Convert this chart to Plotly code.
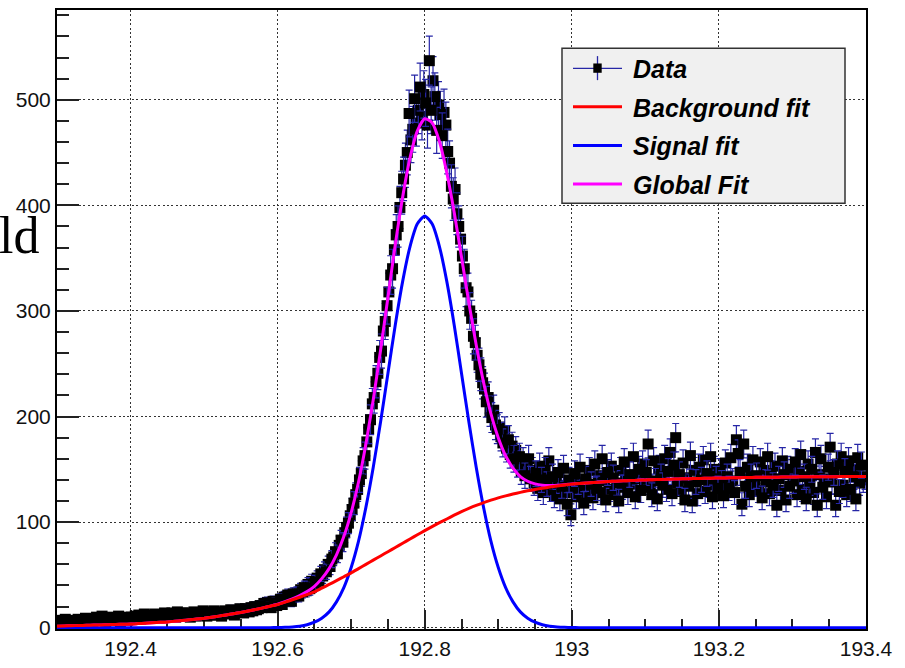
import numpy as np
import plotly.graph_objects as go

# ---- histogram (counts per bin, bin width 0.0025) ----
bin_lo, bin_hi, n_bins = 192.3, 193.4, 440
counts = [
    5, 7, 4, 6, 8, 5, 6, 4, 7, 6,
    6, 8, 5, 7, 6, 9, 5, 7, 8, 6,
    8, 10, 7, 9, 11, 8, 6, 9, 10, 8,
    7, 9, 8, 11, 6, 9, 10, 8, 7, 9,
    10, 8, 11, 9, 12, 8, 10, 13, 9, 11,
    9, 12, 10, 13, 11, 9, 12, 10, 14, 11,
    13, 11, 14, 12, 10, 15, 13, 11, 14, 12,
    12, 14, 10, 13, 15, 11, 13, 12, 14, 16,
    13, 11, 15, 12, 14, 16, 12, 13, 15, 11,
    14, 16, 13, 15, 17, 14, 12, 16, 15, 18,
    16, 14, 18, 17, 15, 19, 16, 20, 17, 18,
    21, 19, 23, 20, 24, 22, 19, 25, 23, 21,
    24, 27, 22, 29, 26, 31, 28, 25, 32, 30,
    33, 30, 36, 34, 38, 35, 41, 37, 44, 40,
    43, 47, 44, 51, 49, 55, 53, 60, 58, 65,
    67, 72, 70, 78, 83, 81, 90, 95, 99, 106,
    112, 118, 126, 131, 140, 146, 158, 163, 176, 188,
    197, 212, 218, 233, 241, 256, 262, 281, 290, 305,
    318, 334, 340, 358, 372, 380, 398, 412, 425, 438,
    450, 487, 462, 472, 501, 478, 490, 512, 484, 505,
    497, 476, 537, 490, 518, 503, 471, 495, 486, 466,
    488, 476, 451, 440, 418, 406, 415, 392, 380, 368,
    352, 340, 322, 318, 300, 293, 276, 270, 258, 249,
    240, 232, 226, 214, 218, 205, 199, 206, 192, 188,
    190, 181, 175, 186, 170, 178, 164, 172, 160, 168,
    155, 162, 148, 158, 144, 152, 160, 141, 149, 137,
    146, 132, 153, 140, 128, 149, 136, 158, 131, 143,
    125, 139, 147, 122, 134, 151, 128, 117, 140, 107,
    133, 146, 124, 138, 152, 130, 118, 141, 127, 149,
    136, 123, 155, 132, 144, 128, 160, 139, 121, 147,
    131, 153, 142, 126, 137, 120, 149, 133, 157, 140,
    128, 145, 136, 162, 124, 141, 150, 130, 155, 138,
    147, 174, 133, 126, 158, 139, 122, 151, 143, 135,
    160, 131, 148, 166, 127, 154, 180, 137, 145, 129,
    156, 121, 142, 134, 163, 120, 149, 138, 127, 152,
    140, 159, 129, 146, 135, 162, 124, 150, 141, 132,
    148, 137, 125, 156, 143, 132, 161, 139, 128, 178,
    165, 147, 117, 174, 134, 152, 126, 143, 159, 136,
    144, 130, 157, 123, 149, 138, 162, 127, 146, 135,
    153, 116, 141, 130, 158, 145, 121, 150, 134, 147,
    139, 157, 126, 148, 164, 131, 143, 122, 155, 137,
    150, 128, 166, 116, 145, 160, 133, 141, 124, 152,
    171, 138, 147, 116, 155, 129, 162, 135, 148, 126,
    158, 131, 150, 143, 122, 161, 137, 154, 140, 143,
]

# ---- fitted functions, sampled every 0.01 from 192.30 to 193.40 ----
fit_lo, fit_hi, fit_n = 192.30, 193.40, 111
background_fit = [
    1.5, 1.7, 1.9, 2.1, 2.3, 2.5, 2.7, 2.9, 3.1, 3.3,
    3.5, 3.9, 4.3, 4.7, 5.1, 5.5, 6.1, 6.8, 7.5, 8.2,
    9.0, 10.0, 11.0, 12.1, 13.3, 14.5, 15.9, 17.3, 18.8, 20.4,
    22.0, 24.2, 26.5, 28.9, 31.4, 34.0, 37.5, 41.0, 44.6, 48.3,
    52.0, 56.0, 60.0, 64.0, 68.0, 72.0, 76.0, 80.0, 84.0, 88.0,
    92.0, 95.8, 99.5, 103.0, 106.6, 110.0, 113.0, 115.8, 118.4, 120.8,
    123.0, 124.9, 126.6, 128.2, 129.7, 131.0, 132.1, 133.2, 134.2, 135.1,
    136.0, 136.6, 137.1, 137.6, 138.1, 138.5, 138.8, 139.1, 139.4, 139.7,
    140.0, 140.2, 140.4, 140.6, 140.8, 141.0, 141.2, 141.3, 141.5, 141.6,
    141.8, 141.9, 142.0, 142.1, 142.3, 142.4, 142.5, 142.6, 142.6, 142.7,
    142.8, 142.9, 142.9, 143.0, 143.0, 143.1, 143.1, 143.2, 143.2, 143.3,
    143.3,
]
signal_fit = [
    0, 0, 0, 0, 0, 0, 0, 0, 0, 0,
    0, 0, 0, 0, 0, 0, 0, 0, 0, 0,
    0, 0, 0, 0, 0, 0, 0, 0, 0, 0.1,
    0.2, 0.4, 0.8, 1.5, 2.8, 5.2, 9.0, 15.0, 24.5, 38.0,
    57.0, 82.0, 114.0, 152.0, 195.0, 241.0, 287.0, 328.0, 361.0, 382.5,
    390.0, 382.5, 361.0, 328.0, 287.0, 241.0, 195.0, 152.0, 114.0, 82.0,
    57.0, 38.0, 24.5, 15.0, 9.0, 5.2, 2.8, 1.5, 0.8, 0.4,
    0.2, 0.1, 0, 0, 0, 0, 0, 0, 0, 0,
    0, 0, 0, 0, 0, 0, 0, 0, 0, 0,
    0, 0, 0, 0, 0, 0, 0, 0, 0, 0,
    0, 0, 0, 0, 0, 0, 0, 0, 0, 0,
    0,
]
global_fit = [
    1.5, 1.7, 1.9, 2.1, 2.3, 2.5, 2.7, 2.9, 3.1, 3.3,
    3.5, 3.9, 4.3, 4.7, 5.1, 5.5, 6.1, 6.8, 7.5, 8.2,
    9.0, 10.0, 11.0, 12.1, 13.3, 14.5, 15.9, 17.3, 18.8, 20.5,
    22.2, 24.6, 27.3, 30.4, 34.2, 39.2, 46.5, 56.0, 69.1, 86.3,
    109.0, 138.0, 174.0, 216.0, 263.0, 313.0, 363.0, 408.0, 445.0, 470.5,
    482.0, 478.3, 460.5, 431.0, 393.6, 351.0, 308.0, 267.8, 232.4, 202.8,
    180.0, 162.9, 151.1, 143.2, 138.7, 136.2, 134.9, 134.7, 135.0, 135.5,
    136.2, 136.7, 137.1, 137.6, 138.1, 138.5, 138.8, 139.1, 139.4, 139.7,
    140.0, 140.2, 140.4, 140.6, 140.8, 141.0, 141.2, 141.3, 141.5, 141.6,
    141.8, 141.9, 142.0, 142.1, 142.3, 142.4, 142.5, 142.6, 142.6, 142.7,
    142.8, 142.9, 142.9, 143.0, 143.0, 143.1, 143.1, 143.2, 143.2, 143.3,
    143.3,
]

x_tickvals = [192.4, 192.6, 192.8, 193.0, 193.2, 193.4]
x_ticktext = ["192.4", "192.6", "192.8", "193", "193.2", "193.4"]
y_tickvals = [0, 100, 200, 300, 400, 500]
y_ticktext = ["0", "100", "200", "300", "400", "500"]

legend_labels = ["Data", "Background fit", "Signal fit", "Global Fit"]

# ---- derived arrays ----
width = (bin_hi - bin_lo) / n_bins
bin_x = bin_lo + width * (np.arange(n_bins) + 0.5)
counts_arr = np.array(counts, dtype=float)
count_err = np.sqrt(counts_arr)
fit_x = np.linspace(fit_lo, fit_hi, fit_n)

ERR_COLOR = "#2626a6"
FONT = "Liberation Sans, Arial, sans-serif"

fig = go.Figure()

# data points drawn in interleaved passes so later error bars
# sit over earlier markers, as in a point-by-point drawing
for start in (0, 1, 2):
    sl = slice(start, None, 3)
    fig.add_trace(go.Scatter(
        x=bin_x[sl], y=counts_arr[sl], mode="markers",
        marker=dict(symbol="square", size=11, color="black", line=dict(width=0)),
        error_y=dict(type="data", array=count_err[sl], visible=True,
                     color=ERR_COLOR, thickness=1.2, width=3.5),
        showlegend=False, hoverinfo="skip",
    ))

fig.add_trace(go.Scatter(x=fit_x, y=global_fit, mode="lines",
                         line=dict(color="#ff00ff", width=3, shape="spline", smoothing=0.6),
                         showlegend=False))
fig.add_trace(go.Scatter(x=fit_x, y=signal_fit, mode="lines",
                         line=dict(color="#0000ff", width=3, shape="spline", smoothing=0.6),
                         showlegend=False))
fig.add_trace(go.Scatter(x=fit_x, y=background_fit, mode="lines",
                         line=dict(color="#ff0000", width=3, shape="spline", smoothing=0.6),
                         showlegend=False))

axis_common = dict(
    showline=True, linecolor="black", linewidth=2, mirror=True,
    ticks="inside", tickcolor="#222", tickwidth=2,
    showgrid=True, gridcolor="#333", gridwidth=1, griddash="2px,2.4px",
    zeroline=False, layer="below traces",
    tickfont=dict(family=FONT, size=21, color="#111"),
)

fig.update_xaxes(
    range=[bin_lo, bin_hi], tickmode="array", tickvals=x_tickvals, ticktext=x_ticktext,
    ticklen=19,
    minor=dict(dtick=0.05, tick0=192.3, ticks="inside", ticklen=10,
               tickcolor="#222", tickwidth=2, showgrid=False),
    **axis_common,
)
fig.update_yaxes(
    range=[-1.2, 585], tickmode="array", tickvals=y_tickvals, ticktext=y_ticktext,
    ticklen=22,
    minor=dict(dtick=20, tick0=0, ticks="inside", ticklen=12,
               tickcolor="#222", tickwidth=2, showgrid=False),
    **axis_common,
)

# ---- legend box ----
L, R, B, T = 57, 866, 639, 8
def px(x):
    return (x - L) / (R - L)
def py(y):
    return (B - y) / (B - T)

shapes = [
    dict(type="rect", xref="paper", yref="paper",
         x0=px(562), x1=px(845), y0=py(205), y1=py(47),
         fillcolor="#f0f0f0", line=dict(color="#333", width=1.5), layer="above"),
]
rows = [67.5, 106.7, 146.0, 185.3]
line_colors = [None, "#ff0000", "#0000ff", "#ff00ff"]
for r, c in zip(rows, line_colors):
    if c is None:
        shapes.append(dict(type="line", xref="paper", yref="paper",
                           x0=px(573), x1=px(622), y0=py(r), y1=py(r),
                           line=dict(color=ERR_COLOR, width=1.3), layer="above"))
        shapes.append(dict(type="line", xref="paper", yref="paper",
                           x0=px(597.5), x1=px(597.5), y0=py(r - 12.5), y1=py(r + 12),
                           line=dict(color=ERR_COLOR, width=1.3), layer="above"))
        shapes.append(dict(type="rect", xref="paper", yref="paper",
                           x0=px(593.3), x1=px(601.7), y0=py(r + 4.5), y1=py(r - 5),
                           fillcolor="black", line=dict(width=0), layer="above"))
    else:
        shapes.append(dict(type="line", xref="paper", yref="paper",
                           x0=px(573), x1=px(622), y0=py(r), y1=py(r),
                           line=dict(color=c, width=3), layer="above"))

annotations = []
for r, lab in zip(rows, legend_labels):
    annotations.append(dict(
        xref="paper", yref="paper", x=px(631), y=py(r + 1), xanchor="left", yanchor="middle",
        text=f"<b><i>{lab}</i></b>", showarrow=False,
        font=dict(family=FONT, size=25, color="black"),
    ))

# partial axis title at the far left
annotations.append(dict(
    xref="paper", yref="paper", x=px(-3), y=py(238), xanchor="left", yanchor="middle",
    text="ld", showarrow=False,
    font=dict(family="Liberation Serif, Times New Roman, serif", size=52, color="black"),
))

fig.update_layout(
    width=905, height=668,
    margin=dict(l=L, r=905 - R, t=T, b=668 - B),
    paper_bgcolor="white", plot_bgcolor="white",
    shapes=shapes, annotations=annotations,
    showlegend=False,
)

fig.write_html("out.html")
